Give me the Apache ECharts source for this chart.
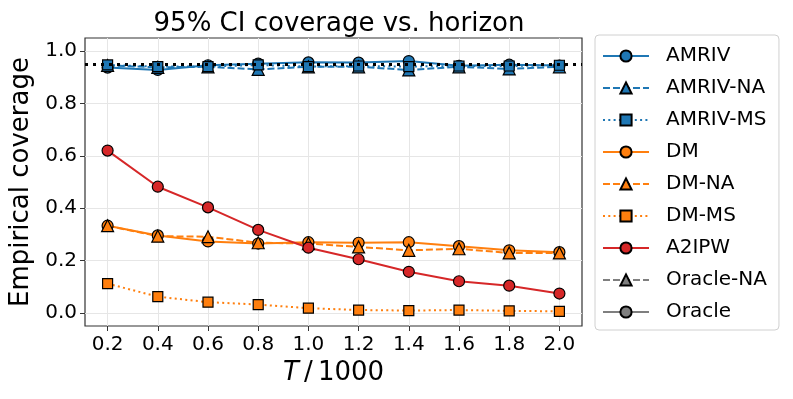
<!DOCTYPE html>
<html>
<head>
<meta charset="utf-8">
<script src="https://cdn.jsdelivr.net/npm/echarts@6/dist/echarts.min.js"></script>
<style>
  html, body { margin: 0; padding: 0; background: #fff; }
  #main { width: 793px; height: 399px; }
</style>
</head>
<body>
<div id="main"></div>
<script>
// horizon T/1000
var horizon = [0.2, 0.4, 0.6, 0.8, 1.0, 1.2, 1.4, 1.6, 1.8, 2.0];
var xTicks = [0.2, 0.4, 0.6, 0.8, 1.0, 1.2, 1.4, 1.6, 1.8, 2.0];
var yTicks = [0.0, 0.2, 0.4, 0.6, 0.8, 1.0];
var nominal = 0.95;

// coverage
var amriv    = [0.937, 0.928, 0.946, 0.952, 0.957, 0.956, 0.962, 0.944, 0.948, 0.945];
var amrivNA  = [0.945, 0.938, 0.940, 0.930, 0.940, 0.940, 0.928, 0.940, 0.932, 0.940];
var amrivMS  = [0.947, 0.941, 0.941, 0.947, 0.941, 0.943, 0.941, 0.943, 0.943, 0.946];
var dm       = [0.333, 0.296, 0.273, 0.265, 0.270, 0.268, 0.270, 0.255, 0.239, 0.232];
var dmNA     = [0.333, 0.293, 0.291, 0.268, 0.265, 0.252, 0.239, 0.245, 0.229, 0.229];
var dmMS     = [0.112, 0.062, 0.041, 0.032, 0.018, 0.011, 0.009, 0.011, 0.008, 0.006];
var a2ipw    = [0.620, 0.482, 0.403, 0.317, 0.249, 0.205, 0.157, 0.121, 0.104, 0.074];
var oracleNA = [];
var oracle   = [];

var FONT = 'DejaVu Sans';
var BLUE = '#1f77b4', ORANGE = '#ff7f0e', RED = '#d62728', GRAY = '#7f7f7f';
var DASH = [7, 3], DOT = [2, 3.3];

function pairs(vals) {
    return vals.map(function (v, i) { return [horizon[i], v]; });
}

function mk(name, vals, color, dash, symbol, size) {
    return {
        name: name,
        type: 'line',
        data: pairs(vals),
        z: 3,
        symbol: symbol,
        symbolSize: size,
        showAllSymbol: true,
        lineStyle: { color: color, width: 2, type: dash },
        itemStyle: { color: color, borderColor: '#000', borderWidth: 1.2 },
        emphasis: { disabled: true },
        animation: false
    };
}

var series = [
    mk('AMRIV', amriv, BLUE, 'solid', 'circle', 11),
    mk('AMRIV-NA', amrivNA, BLUE, DASH, 'triangle', 12),
    mk('AMRIV-MS', amrivMS, BLUE, DOT, 'rect', 10),
    mk('DM', dm, ORANGE, 'solid', 'circle', 11),
    mk('DM-NA', dmNA, ORANGE, DASH, 'triangle', 12),
    mk('DM-MS', dmMS, ORANGE, DOT, 'rect', 10),
    mk('A2IPW', a2ipw, RED, 'solid', 'circle', 11),
    mk('Oracle-NA', oracleNA, GRAY, DASH, 'triangle', 12),
    mk('Oracle', oracle, GRAY, 'solid', 'circle', 11),
    {
        name: 'nominal',
        type: 'line',
        data: [],
        z: 2,
        animation: false,
        markLine: {
            silent: true,
            symbol: ['none', 'none'],
            label: { show: false },
            lineStyle: { color: '#000', width: 3, type: [3, 5] },
            data: [{ yAxis: nominal }]
        }
    }
];

var chart = echarts.init(document.getElementById('main'), null, { renderer: 'canvas' });
chart.setOption({
    animation: false,
    backgroundColor: '#fff',
    textStyle: { fontFamily: FONT },
    title: {
        text: '95% CI coverage vs. horizon',
        left: 334, top: 6, textAlign: 'center',
        textStyle: { fontFamily: FONT, fontSize: 26, fontWeight: 'normal', color: '#000' }
    },
    grid: {
        left: 85, top: 38, width: 497, height: 288,
        show: true, borderColor: '#333', borderWidth: 1.2, containLabel: false
    },
    legend: {
        data: ['AMRIV', 'AMRIV-NA', 'AMRIV-MS', 'DM', 'DM-NA', 'DM-MS', 'A2IPW', 'Oracle-NA', 'Oracle'],
        orient: 'vertical',
        left: 595, top: 35,
        padding: [11, 12, 8, 7],
        itemWidth: 46, itemHeight: 14, itemGap: 12,
        backgroundColor: '#fff',
        borderColor: '#d0d0d0', borderWidth: 1, borderRadius: 4,
        textStyle: { fontFamily: FONT, fontSize: 20, color: '#000', lineHeight: 20, padding: [0, 0, 0, 12] }
    },
    xAxis: {
        type: 'value',
        min: 0.11, max: 2.09,
        name: '{i|T}\u2009/\u20091000',
        nameLocation: 'middle', nameGap: 34,
        nameTextStyle: {
            fontFamily: FONT, fontSize: 26, color: '#000',
            rich: { i: { fontFamily: FONT, fontSize: 26, fontStyle: 'italic', color: '#000' } }
        },
        axisLine: { show: false, onZero: false },
        axisTick: { show: true, length: 5, customValues: xTicks, lineStyle: { color: '#333' } },
        axisLabel: {
            customValues: xTicks, margin: 9,
            fontFamily: FONT, fontSize: 20, color: '#000',
            formatter: function (v) { return v.toFixed(1); }
        },
        splitLine: { show: true, lineStyle: { color: '#e6e6e6', width: 1 } }
    },
    yAxis: {
        type: 'value',
        min: -0.05, max: 1.05,
        name: 'Empirical coverage',
        nameLocation: 'middle', nameGap: 50,
        nameTextStyle: { fontFamily: FONT, fontSize: 26, color: '#000' },
        axisLine: { show: false, onZero: false },
        axisTick: { show: true, length: 5, customValues: yTicks, lineStyle: { color: '#333' } },
        axisLabel: {
            customValues: yTicks, margin: 8,
            fontFamily: FONT, fontSize: 20, color: '#000',
            formatter: function (v) { return v.toFixed(1); }
        },
        splitLine: { show: true, lineStyle: { color: '#e6e6e6', width: 1 } }
    },
    series: series
});
</script>
</body>
</html>
